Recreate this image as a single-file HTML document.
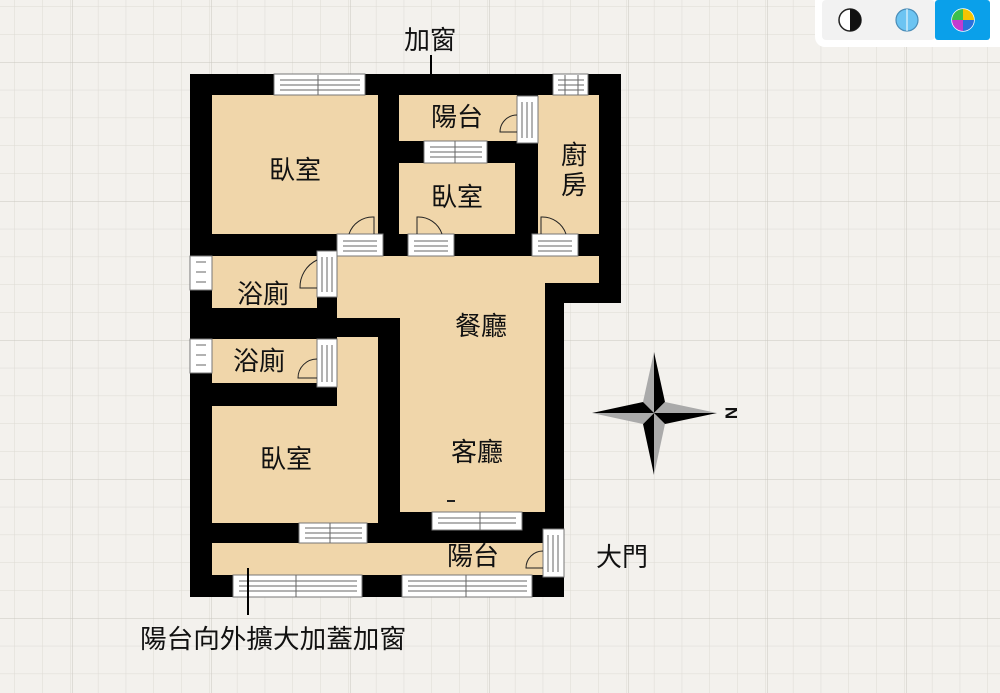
<!DOCTYPE html>
<html><head><meta charset="utf-8"><style>
html,body{margin:0;padding:0;background:#f3f1ed;}
svg{display:block;}
text{font-family:"Liberation Sans","Noto Sans CJK TC",sans-serif;fill:#111;}
</style></head><body>
<svg width="1000" height="693" viewBox="0 0 1000 693" xmlns="http://www.w3.org/2000/svg">
<defs>
<pattern id="g" width="27.8" height="27.8" patternUnits="userSpaceOnUse" x="14.5" y="6.4">
<path d="M0 0H27.8M0 0V27.8" stroke="#dddad4" stroke-width="1" fill="none"/>
</pattern>
<pattern id="G" width="139" height="139" patternUnits="userSpaceOnUse" x="906" y="340">
<path d="M0 0H139M0 0V139" stroke="#c9c6c0" stroke-width="1" fill="none"/>
</pattern>
</defs>
<rect width="1000" height="693" fill="#f3f1ed"/>
<rect width="1000" height="693" fill="url(#g)"/>
<rect width="1000" height="693" fill="url(#G)"/>

<path d="M190 74H621V303H564V597H190Z" fill="#000"/>
<g fill="#f0d6aa">
<rect x="212" y="95" width="166" height="139"/>
<rect x="399" y="95" width="118" height="46"/>
<rect x="399" y="163" width="116" height="71"/>
<rect x="538" y="95" width="61" height="139"/>
<rect x="212" y="256" width="105" height="52"/>
<path d="M337 256H599V283H545V512H432V523H410V512H400V318H337Z"/>
<path d="M337 337H378V523H212V406H337Z"/>
<rect x="212" y="339" width="105" height="44"/>
<rect x="212" y="543" width="331" height="32"/>
</g>
<rect x="212" y="523" width="198" height="20" fill="#000"/>
<rect x="410" y="512" width="22" height="31" fill="#000"/>
<rect x="522" y="512" width="42" height="18" fill="#000"/>

<g fill="#fff" stroke="#777" stroke-width="1">
<rect x="274" y="74" width="91" height="21"/>
<rect x="553" y="74" width="35" height="21"/>
<rect x="424" y="141" width="63" height="22"/>
<rect x="517" y="96" width="21" height="47"/>
<rect x="337" y="234" width="46" height="22"/>
<rect x="408" y="234" width="46" height="22"/>
<rect x="532" y="234" width="46" height="22"/>
<rect x="317" y="251" width="20" height="46"/>
<rect x="190" y="256" width="22" height="34"/>
<rect x="190" y="339" width="22" height="34"/>
<rect x="317" y="339" width="20" height="48"/>
<rect x="299" y="523" width="68" height="20"/>
<rect x="432" y="512" width="90" height="18"/>
<rect x="233" y="575" width="129" height="22"/>
<rect x="402" y="575" width="130" height="22"/>
<rect x="543" y="529" width="21" height="48"/>
</g>
<g stroke="#666" stroke-width="1" fill="none">
<path d="M280 80H360M280 85H360M280 90H360M318 75V95"/>
<path d="M558 80H584M558 85H584M558 90H584M565 75V95M578 75V95"/>
<path d="M430 147H482M430 152H482M430 157H482M455 141V163"/>
<path d="M522 102V138M527 102V138M532 102V138"/>
<path d="M343 241H377M343 246H377M343 251H377"/>
<path d="M414 241H448M414 246H448M414 251H448"/>
<path d="M538 241H572M538 246H572M538 251H572"/>
<path d="M322 257V292M327 257V292M332 257V292"/>
<path d="M196 262H206M196 272H206M196 282H206"/>
<path d="M196 345H206M196 355H206M196 365H206"/>
<path d="M322 345V382M327 345V382M332 345V382"/>
<path d="M305 528H362M305 533H362M305 538H362M330 523V543"/>
<path d="M438 518H516M438 523H516M480 512V530"/>
<path d="M239 581H357M239 586H357M239 591H357M296 575V597"/>
<path d="M408 581H527M408 586H527M408 591H527M466 575V597"/>
<path d="M548 535V572M553 535V572M558 535V572"/>
</g>
<g stroke="#222" stroke-width="1" fill="none">
<path d="M374 234V217A25 25 0 0 0 349 234"/>
<path d="M417 234V217A25 25 0 0 1 442 234"/>
<path d="M541 234V217A25 25 0 0 1 566 234"/>
<path d="M517 132H500A17 17 0 0 1 517 115"/>
<path d="M317 288H300A30 30 0 0 1 317 260" />
<path d="M317 378H298A19 19 0 0 1 317 359"/>
<path d="M543 568H526A17 17 0 0 1 543 551"/>
<path d="M447 501H455" stroke-width="2"/>
</g>

<g font-size="26">
<text x="295" y="179" text-anchor="middle">臥室</text>
<text x="457" y="126" text-anchor="middle">陽台</text>
<text x="457" y="206" text-anchor="middle">臥室</text>
<text x="574" y="164" text-anchor="middle">廚</text>
<text x="574" y="194" text-anchor="middle">房</text>
<text x="263" y="303" text-anchor="middle">浴廁</text>
<text x="259" y="370" text-anchor="middle">浴廁</text>
<text x="481" y="335" text-anchor="middle">餐廳</text>
<text x="477" y="461" text-anchor="middle">客廳</text>
<text x="286" y="468" text-anchor="middle">臥室</text>
<text x="473" y="565" text-anchor="middle">陽台</text>
<text x="622" y="566" text-anchor="middle">大門</text>
<text x="430" y="49" text-anchor="middle">加窗</text>
<text x="140" y="648" textLength="266" lengthAdjust="spacingAndGlyphs">陽台向外擴大加蓋加窗</text>
</g>
<line x1="431" y1="55" x2="431" y2="74" stroke="#000" stroke-width="2"/>
<line x1="248" y1="568" x2="248" y2="615" stroke="#000" stroke-width="2"/>

<g transform="translate(654,413)">
<polygon points="0,-61 -11,-11 0,0" fill="#aaa"/>
<polygon points="0,-61 11,-11 0,0" fill="#000"/>
<polygon points="0,62 -11,11 0,0" fill="#000"/>
<polygon points="0,62 11,11 0,0" fill="#aaa"/>
<polygon points="-62,0 -11,-11 0,0" fill="#000"/>
<polygon points="-62,0 -11,11 0,0" fill="#aaa"/>
<polygon points="63,0 11,-11 0,0" fill="#aaa"/>
<polygon points="63,0 11,11 0,0" fill="#000"/>
</g>
<text x="730" y="413" font-size="17" font-weight="bold" transform="rotate(90 730 413)" text-anchor="middle" dominant-baseline="middle">N</text>

<path d="M815 0H1000V47H825A10 10 0 0 1 815 37Z" fill="#fff"/>
<rect x="822" y="0" width="113" height="40" rx="4" fill="#f2f2f2"/>
<rect x="935" y="0" width="55" height="40" rx="3" fill="#0aa0ea"/>
<circle cx="850" cy="20" r="11" fill="#fff" stroke="#222" stroke-width="1.5"/>
<path d="M850 9A11 11 0 0 1 850 31Z" fill="#111"/>
<circle cx="907" cy="20" r="11" fill="#6cc4f2" stroke="#4a8db8" stroke-width="1.2"/>
<line x1="907" y1="9" x2="907" y2="31" stroke="#fff" stroke-width="1"/>
<circle cx="963" cy="20" r="11" fill="#e33" stroke="#fff" stroke-width="1.5"/>
<path d="M963 20L963 9A11 11 0 0 1 974 20Z" fill="#f5c400"/>
<path d="M963 20L974 20A11 11 0 0 1 963 31Z" fill="#2a6fdb"/>
<path d="M963 20L963 31A11 11 0 0 1 952 20Z" fill="#c23bd0"/>
<path d="M963 20L952 20A11 11 0 0 1 963 9Z" fill="#3bbf4a"/>
</svg>
</body></html>
